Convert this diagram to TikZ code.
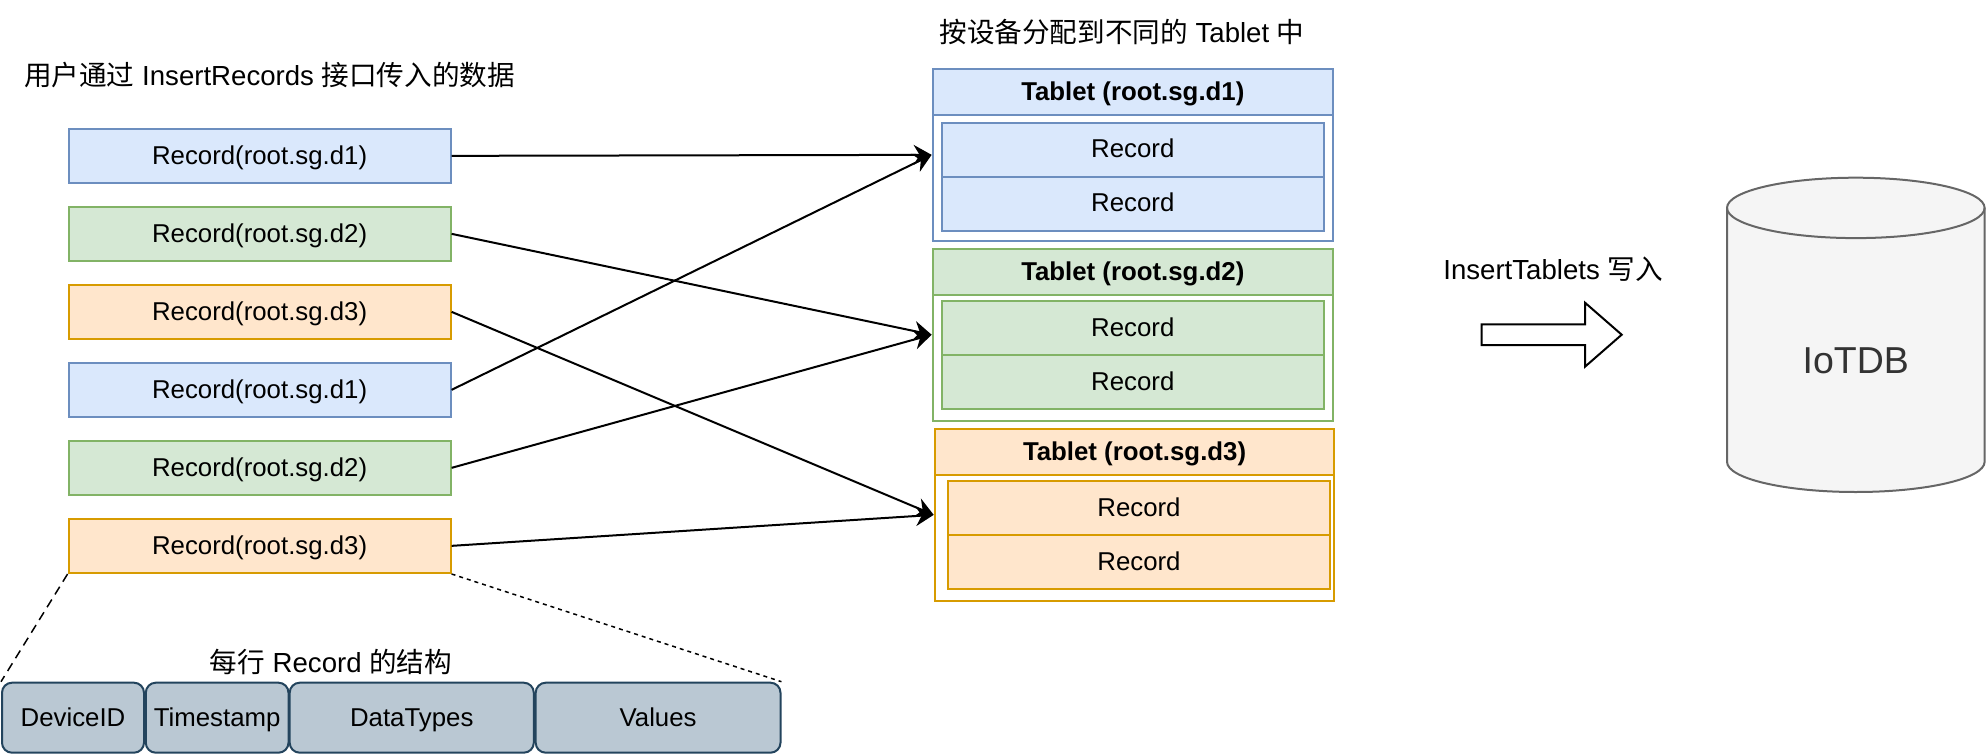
\documentclass[tikz,border=0pt]{standalone}
\usepackage{fontspec}
\setmainfont{Liberation Sans}
\newfontfamily\cjkf{Noto Sans CJK SC}
\newcommand\zh[1]{{\cjkf #1}}
\usetikzlibrary{arrows.meta}
\definecolor{bfill}{HTML}{DAE8FC}
\definecolor{bdraw}{HTML}{6C8EBF}
\definecolor{gfill}{HTML}{D5E8D4}
\definecolor{gdraw}{HTML}{82B366}
\definecolor{ofill}{HTML}{FFE6CC}
\definecolor{odraw}{HTML}{D79B00}
\definecolor{sfill}{HTML}{BAC8D3}
\definecolor{sdraw}{HTML}{23445D}
\definecolor{cfill}{HTML}{F5F5F5}
\definecolor{cdraw}{HTML}{666666}
\definecolor{ctext}{HTML}{333333}
\begin{document}
\begin{tikzpicture}[x=1pt,y=-1pt,
  txt/.style={font=\fontsize{25.8}{30}\selectfont, text height=22pt, text depth=5.6pt},
  lbl/.style={font=\fontsize{27.6}{32}\selectfont, inner sep=0},
  box/.style={draw, line width=2pt, inner sep=0, txt},
  rec/.style={box, minimum width=382pt, minimum height=54.3pt},
  blu/.style={fill=bfill, draw=bdraw},
  grn/.style={fill=gfill, draw=gdraw},
  org/.style={fill=ofill, draw=odraw},
  outerbox/.style={box, fill=white, minimum height=172pt},
  hdr/.style={box, minimum height=46.2pt, font=\fontsize{25.8}{30}\selectfont\bfseries},
  inrec/.style={box, minimum width=382.2pt, minimum height=54.2pt},
  fld/.style={box, fill=sfill, draw=sdraw, rounded corners=10pt, minimum height=70pt, text height=23pt, text depth=5pt},
  conn/.style={line width=2pt, -{Stealth[length=18pt,width=20pt,inset=6pt]}}
]
\useasboundingbox (0,0) rectangle (1988,754);

% titles
\node[lbl] (title1) at (269.5,75) {\zh{用户通过} InsertRecords \zh{接口传入的数据}};
\node[lbl] (title2) at (1122,31.5) {\zh{按设备分配到不同的} Tablet \zh{中}};
\node[lbl] (wlabel) at (1553,269) {InsertTablets \zh{写入}};
\node[lbl] (slabel) at (331,662) {\zh{每行} Record \zh{的结构}};

% left records
\node[rec,blu] (r1) at (259.6,155.85) {Record(root.sg.d1)};
\node[rec,grn] (r2) at (259.6,233.85) {Record(root.sg.d2)};
\node[rec,org] (r3) at (259.6,311.85) {Record(root.sg.d3)};
\node[rec,blu] (r4) at (259.6,389.85) {Record(root.sg.d1)};
\node[rec,grn] (r5) at (259.6,467.85) {Record(root.sg.d2)};
\node[rec,org] (r6) at (259.6,545.85) {Record(root.sg.d3)};

% tablet d1
\node[outerbox, draw=bdraw, minimum width=400.4pt] (t1) at (1132.8,154.85) {};
\node[hdr, blu, minimum width=400.4pt] (t1h) at (1132.8,92) {Tablet (root.sg.d1)};
\node[inrec, blu] (t1a) at (1132.8,149.7) {Record};
\node[inrec, blu] (t1b) at (1132.8,203.7) {Record};

% tablet d2
\node[outerbox, draw=gdraw, minimum width=400.4pt] (t2) at (1132.8,334.7) {};
\node[hdr, grn, minimum width=400.4pt] (t2h) at (1132.8,271.85) {Tablet (root.sg.d2)};
\node[inrec, grn] (t2a) at (1132.8,327.85) {Record};
\node[inrec, grn] (t2b) at (1132.8,382) {Record};

% tablet d3
\node[outerbox, draw=odraw, minimum width=399.7pt, minimum height=172.3pt] (t3) at (1134.55,514.85) {};
\node[hdr, org, minimum width=399.7pt] (t3h) at (1134.55,451.85) {Tablet (root.sg.d3)};
\node[inrec, org, minimum width=382.1pt] (t3a) at (1138.95,507.85) {Record};
\node[inrec, org, minimum width=382.1pt] (t3b) at (1138.95,562) {Record};

% connectors
\draw[conn] (r1.east) -- (t1.west);
\draw[conn] (r2.east) -- (t2.west);
\draw[conn] (r3.east) -- (t3.west);
\draw[conn] (r4.east) -- (t1.west);
\draw[conn] (r5.east) -- (t2.west);
\draw[conn] (r6.east) -- (t3.west);

% block arrow
\draw[line width=2pt, fill=white, line join=miter]
  (1481.6,324.3) -- (1585,324.3) -- (1585,302.7) -- (1621.7,334.7)
  -- (1585,366.7) -- (1585,345) -- (1481.6,345) -- cycle;

% cylinder
\draw[line width=2pt, draw=cdraw, fill=cfill]
  (1727,207.9) -- (1727,461.8)
  arc[start angle=180, end angle=360, x radius=128.8pt, y radius=30.2pt]
  -- (1984.6,207.9)
  arc[start angle=0, end angle=180, x radius=128.8pt, y radius=30.2pt] -- cycle;
\draw[line width=2pt, draw=cdraw]
  (1727,207.9) arc[start angle=180, end angle=360, x radius=128.8pt, y radius=30.2pt];
\node[font=\fontsize{37.5}{42}\selectfont, text=ctext, inner sep=0] (db) at (1855.8,361) {IoTDB};

% record structure
\node[fld, minimum width=142pt] (f1) at (73,717.7) {DeviceID};
\node[fld, minimum width=142.7pt] (f2) at (217.15,717.7) {Timestamp};
\node[fld, minimum width=244.1pt] (f3) at (411.75,717.7) {DataTypes};
\node[fld, minimum width=244.8pt] (f4) at (658.1,717.7) {Values};

\draw[line width=1.5pt, dash pattern=on 9pt off 6pt] (r6.south west) -- (f1.north west);
\draw[line width=1.5pt, dash pattern=on 4pt off 4pt] (r6.south east) -- (f4.north east);
\end{tikzpicture}
\end{document}
